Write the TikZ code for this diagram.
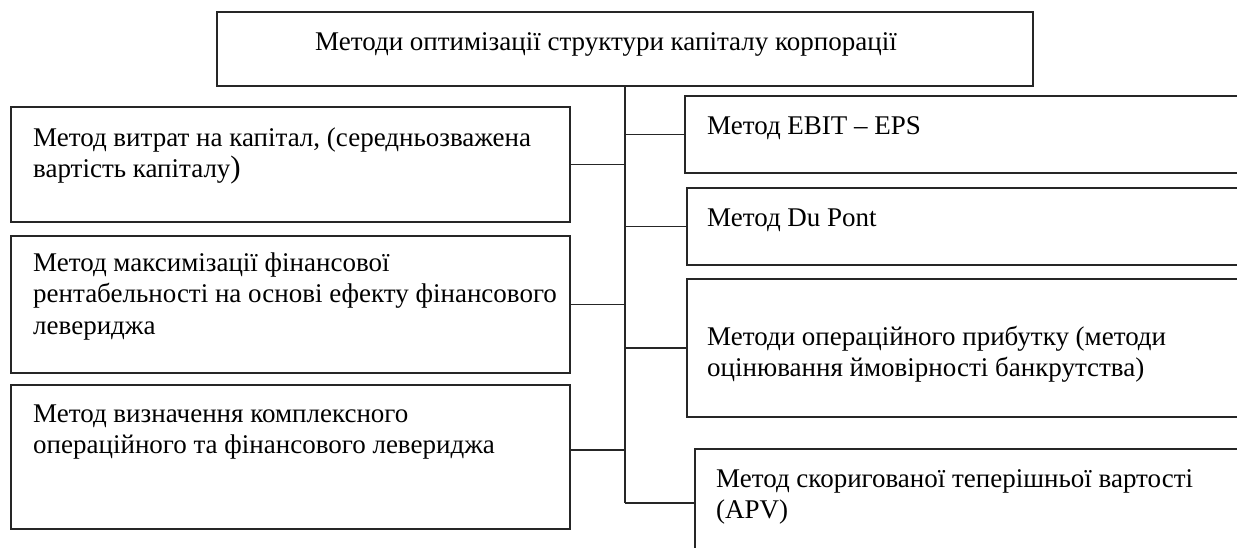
\documentclass[tikz,border=0pt]{standalone}
\usepackage{fontspec}
\setmainfont{Liberation Serif}
\newcommand\lnstrut{\rule{0pt}{24pt}}
\begin{document}
\begin{tikzpicture}[x=1pt,y=-1pt,
  box/.style={draw=black!85, line width=1.1pt, rectangle, anchor=north west, inner sep=0pt, outer sep=0pt},
  lbl/.style={anchor=north west, inner sep=0pt, align=left, font=\fontsize{27}{31.5}\selectfont},
  conn/.style={draw=black!85, line width=1.1pt}]
\useasboundingbox (0,0) rectangle (1237,548);
\clip (0,0) rectangle (1237,548);
% boxes
\node[box, minimum width=816pt, minimum height=74pt] (top) at (217,12) {};
\node[box, minimum width=559pt, minimum height=115pt] (L1) at (11,107) {};
\node[box, minimum width=559pt, minimum height=137pt] (L2) at (11,236) {};
\node[box, minimum width=559pt, minimum height=144pt] (L3) at (11,385) {};
\node[box, minimum width=575pt, minimum height=77pt] (R1) at (685,96) {};
\node[box, minimum width=573pt, minimum height=77pt] (R2) at (687,188) {};
\node[box, minimum width=573pt, minimum height=138pt] (R3) at (687,279) {};
\node[box, minimum width=565pt, minimum height=108pt] (R4) at (695,449) {};
% labels
\node[lbl] (tT) at (315,26) {\lnstrut Методи оптимізації структури капіталу корпорації};
\node[lbl] (tL1) at (33,122) {\lnstrut Метод витрат на капітал, (середньозважена\\вартість капіталу{\fontsize{31}{31}\selectfont)}};
\node[lbl] (tL2) at (33,247) {\lnstrut Метод максимізації фінансової\\рентабельності на основі ефекту фінансового\\левериджа};
\node[lbl] (tL3) at (33,398) {\lnstrut Метод визначення комплексного\\операційного та фінансового левериджа};
\node[lbl] (tR1) at (707,110) {\lnstrut Метод EBIT – EPS};
\node[lbl] (tR2) at (707,202) {\lnstrut Метод Du Pont};
\node[lbl] (tR3) at (707,321) {\lnstrut Методи операційного прибутку (методи\\оцінювання ймовірності банкрутства)};
\node[lbl] (tR4) at (716,463) {\lnstrut Метод скоригованої теперішньої вартості\\(APV)};
% trunk
\coordinate (tb) at (625,503);
\draw[conn] (top.south) -- (tb);
% left connectors
\draw[conn] (L1.east) -- (L1.east -| tb);
\draw[conn] (L2.east) -- (L2.east -| tb);
\draw[conn] ([yshift=7pt]L3.east) -- ([yshift=7pt]L3.east -| tb);
% right connectors
\draw[conn] (R1.west -| tb) -- (R1.west);
\draw[conn] (R2.west -| tb) -- (R2.west);
\draw[conn] (R3.west -| tb) -- (R3.west);
\draw[conn] (tb) -- (R4.west);
\end{tikzpicture}
\end{document}
